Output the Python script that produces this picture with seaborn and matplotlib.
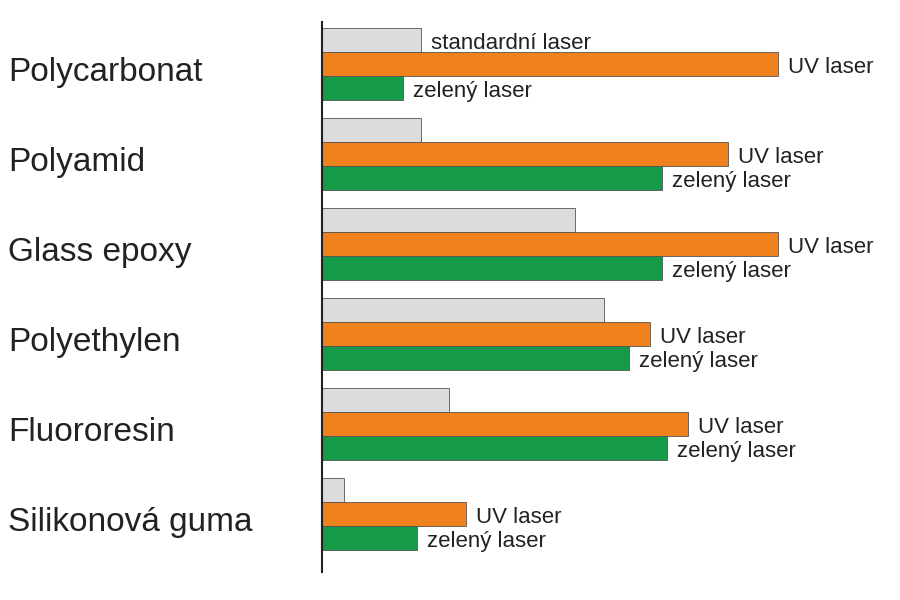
import matplotlib
matplotlib.use("Agg")
import matplotlib.pyplot as plt
import seaborn as sns
import pandas as pd

plt.rcParams["font.family"] = "Liberation Sans"

materials = ["Polycarbonat", "Polyamid", "Glass epoxy", "Polyethylen", "Fluororesin", "Silikonová guma"]
series = ["standardní laser", "UV laser", "zelený laser"]
standard = [99, 99, 253, 282, 127, 22]
uv = [456, 406, 456, 328, 366, 144]
green = [81, 340, 340, 307, 345, 95]

df = pd.DataFrame({
    "material": materials * 3,
    "laser": sum([[s] * len(materials) for s in series], []),
    "value": standard + uv + green,
})

colors = ["#dcdcdc", "#f0821e", "#159a48"]
fig = plt.figure(figsize=(9, 6), dpi=100)
ax = fig.add_axes([0.358, 0.047, 0.642, 0.917])
sns.barplot(data=df, y="material", x="value", hue="laser", order=materials,
            hue_order=series, palette=colors, orient="h", width=0.8, ax=ax,
            edgecolor="#555555", linewidth=0.6, legend=False, saturation=1)

for ci, cont in enumerate(ax.containers):
    for i, bar in enumerate(cont):
        if ci == 0 and i != 0:
            continue
        w = bar.get_width()
        yc = bar.get_y() + bar.get_height() / 2
        ax.text(w + 10, yc + 0.04, series[ci], va="center", ha="left", fontsize=16, color="#222222")

ax.set_xlim(0, 578)
ax.set_ylim(5.644, -0.467)
for s in ["top", "right", "bottom"]:
    ax.spines[s].set_visible(False)
ax.spines["left"].set_linewidth(1.5)
ax.spines["left"].set_color("#222222")
ax.set_xticks([])
ax.tick_params(axis="y", length=0, labelleft=False)
trans = matplotlib.transforms.blended_transform_factory(fig.transFigure, ax.transData)
for i, m in enumerate(materials):
    ax.text(8 / 900, i + 0.1, m, transform=trans, ha="left", va="center", fontsize=24, color="#222222")
ax.set_xlabel("")
ax.set_ylabel("")
fig.savefig("out.png", dpi=100)
